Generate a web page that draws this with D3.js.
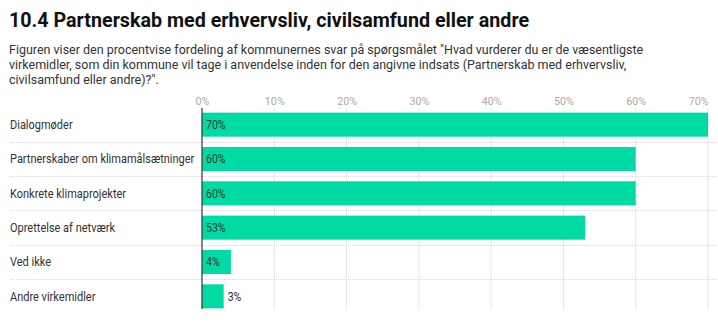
<!DOCTYPE html>
<html>
<head>
<meta charset="utf-8">
<script src="https://cdn.jsdelivr.net/npm/d3@7"></script>
<style>
  body { margin: 0; background: #fff; font-family: Roboto, sans-serif; }
  svg text { font-family: Roboto, sans-serif; }
</style>
</head>
<body>
<svg id="chart" width="718" height="326"></svg>
<script>
// Data
const categories = [
    'Dialogmøder',
    'Partnerskaber om klimamålsætninger',
    'Konkrete klimaprojekter',
    'Oprettelse af netværk',
    'Ved ikke',
    'Andre virkemidler'
];
const values = [70, 60, 60, 53, 4, 3];
const ticks = [0, 10, 20, 30, 40, 50, 60, 70];

const title = '10.4 Partnerskab med erhvervsliv, civilsamfund eller andre';
const subtitleLines = [
    'Figuren viser den procentvise fordeling af kommunernes svar på spørgsmålet "Hvad vurderer du er de væsentligste',
    'virkemidler, som din kommune vil tage i anvendelse inden for den angivne indsats (Partnerskab med erhvervsliv,',
    'civilsamfund eller andre)?".'
];

const svg = d3.select('#chart');

// The source font is narrower than Roboto, so squeeze text horizontally
const squeeze = (sel, factor) => {
    sel.each(function () {
        const t = d3.select(this);
        const x0 = +t.attr('x') || 0;
        t.attr('x', x0 / factor)
            .attr('transform', `scale(${factor},1)`);
    });
};

// Header
svg.append('text')
    .attr('x', 9).attr('y', 27)
    .attr('font-size', 20).attr('font-weight', 700)
    .attr('fill', '#111')
    .text(title)
    .call(squeeze, 0.985);

svg.append('g').selectAll('text')
    .data(subtitleLines)
    .enter()
    .append('text')
    .attr('x', 9)
    .attr('y', (d, i) => 54 + i * 14.8)
    .attr('font-size', 13.3)
    .attr('fill', '#333')
    .text(d => d)
    .call(squeeze, 0.94);

// Scales
const x = d3.scaleLinear().domain([0, 70]).range([202, 708]);
const y = d3.scaleBand().domain(categories).range([107.5, 313.5]).paddingInner(0.3).paddingOuter(0.15);
const rowStep = y.step();

// Gridlines
svg.append('g').selectAll('line')
    .data(ticks.slice(1))
    .enter()
    .append('line')
    .attr('x1', d => x(d)).attr('x2', d => x(d))
    .attr('y1', 108).attr('y2', 310)
    .attr('stroke', '#e6e6e6').attr('stroke-width', 1);

// Row separators (dotted)
svg.append('g').selectAll('line')
    .data(categories.slice(1))
    .enter()
    .append('line')
    .attr('x1', 10).attr('x2', 718)
    .attr('y1', d => Math.round(y(d) - (rowStep - y.bandwidth()) / 2) + 0.5)
    .attr('y2', d => Math.round(y(d) - (rowStep - y.bandwidth()) / 2) + 0.5)
    .attr('stroke', '#d8d8d8').attr('stroke-width', 1)
    .attr('stroke-dasharray', '1,1');

// Top axis labels
const axis = d3.axisTop(x).tickValues(ticks).tickFormat(d => d + '%').tickSize(0).tickPadding(0);
const axisG = svg.append('g').attr('transform', 'translate(0,104.5)').call(axis);
axisG.select('.domain').remove();
axisG.selectAll('text')
    .attr('font-size', 11.5)
    .attr('fill', '#aaa')
    .attr('font-family', 'Roboto, sans-serif')
    .call(squeeze, 0.93);
// last label is pulled inside the chart edge
axisG.selectAll('.tick')
    .filter(d => d === ticks[ticks.length - 1])
    .select('text')
    .attr('text-anchor', 'end');

// Category labels
svg.append('g').selectAll('text')
    .data(categories)
    .enter()
    .append('text')
    .attr('x', 10)
    .attr('y', d => y(d) + y.bandwidth() / 2)
    .attr('dy', '0.35em')
    .attr('font-size', 12.5)
    .attr('fill', '#333')
    .text(d => d)
    .call(squeeze, 0.88);

// Bars
svg.append('g').selectAll('rect')
    .data(values)
    .enter()
    .append('rect')
    .attr('x', x(0))
    .attr('y', (d, i) => y(categories[i]))
    .attr('width', d => x(d) - x(0))
    .attr('height', y.bandwidth())
    .attr('fill', '#00dba6');

// Value labels
svg.append('g').selectAll('text')
    .data(values)
    .enter()
    .append('text')
    .attr('x', d => (x(d) - x(0) > 24 ? x(0) + 4 : x(d) + 4))
    .attr('y', (d, i) => y(categories[i]) + y.bandwidth() / 2)
    .attr('dy', '0.35em')
    .attr('font-size', 12)
    .attr('fill', '#333')
    .text(d => d + '%')
    .call(squeeze, 0.88);

// Zero axis line
svg.append('line')
    .attr('x1', x(0)).attr('x2', x(0))
    .attr('y1', 108).attr('y2', 309)
    .attr('stroke', '#333').attr('stroke-width', 1.2);
</script>
</body>
</html>
